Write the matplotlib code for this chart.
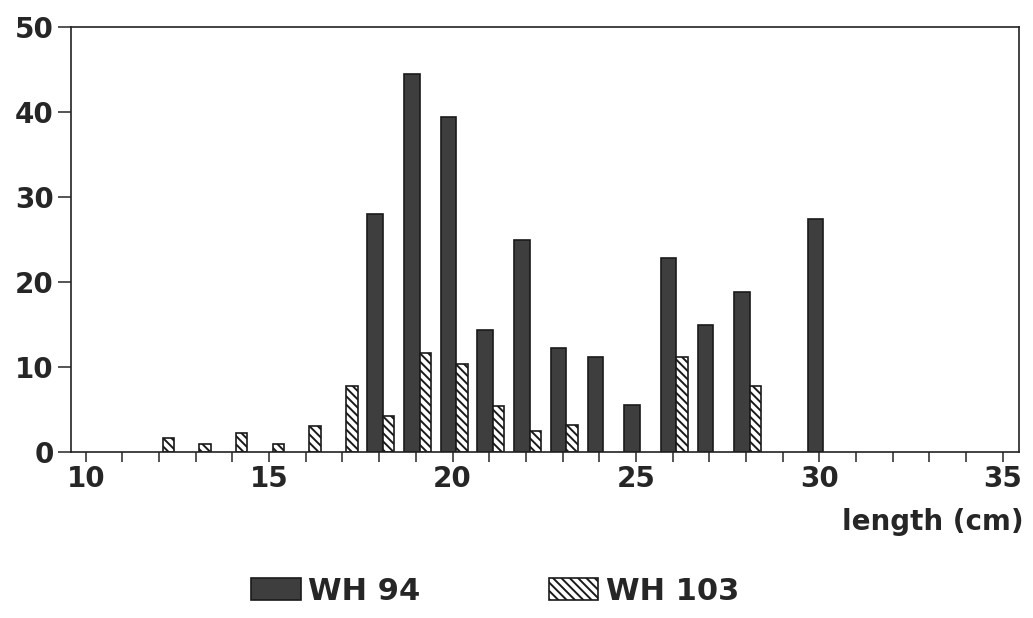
import numpy as np
import matplotlib
matplotlib.use('Agg')
import matplotlib.pyplot as plt
from matplotlib.ticker import MultipleLocator

plt.rcParams['font.family'] = 'DejaVu Sans'
plt.rcParams['font.weight'] = 'bold'
plt.rcParams['hatch.linewidth'] = 1.4
plt.rcParams['text.color'] = '#262626'
plt.rcParams['axes.labelcolor'] = '#262626'

# length classes (cm) and counts
wh94_len = [18, 19, 20, 21, 22, 23, 24, 25, 26, 27, 28, 30]
wh94_n = [28.0, 44.5, 39.4, 14.4, 25.0, 12.2, 11.2, 5.5, 22.8, 15.0, 18.8, 27.4]

wh103_len = [12, 13, 14, 15, 16, 17, 18, 19, 20, 21, 22, 23, 26, 28]
wh103_n = [1.7, 1.0, 2.2, 1.0, 3.1, 7.8, 4.2, 11.6, 10.4, 5.4, 2.5, 3.2, 11.2, 7.8]

x_ticks = [10, 15, 20, 25, 30, 35]
y_ticks = [0, 10, 20, 30, 40, 50]

fig = plt.figure(figsize=(10.33, 6.18), dpi=100)
ax = fig.add_axes([0.0684, 0.2686, 0.9180, 0.6877])

ax.bar(np.array(wh94_len) - 0.32, wh94_n, width=0.42, align='edge',
       color='#3e3e3e', edgecolor='#1a1a1a', linewidth=1.2, label='WH 94')
ax.bar(np.array(wh103_len) + 0.1, wh103_n, width=0.31, align='edge',
       color='white', edgecolor='#1a1a1a', linewidth=1.2, hatch='\\\\\\\\',
       label='WH 103')

ax.set_xlim(9.59, 35.44)
ax.set_ylim(0, 50)
ax.set_xticks(x_ticks)
ax.xaxis.set_minor_locator(MultipleLocator(1))
ax.set_yticks(y_ticks)

ax.tick_params(axis='x', which='both', direction='out', length=7.5, width=1.1,
               pad=2, labelsize=20, colors='#262626')
ax.tick_params(axis='y', direction='out', length=9.5, width=1.1, pad=2.5,
               labelsize=20, colors='#262626')
for s in ax.spines.values():
    s.set_linewidth(1.2)
    s.set_color('#222222')

ax.set_xlabel('length (cm)', fontsize=20, fontweight='bold', ha='right')
ax.xaxis.set_label_coords(1.005, -0.132)

fig.legend(loc='center', bbox_to_anchor=(495 / 1033, 1 - 591 / 618),
           ncol=2, frameon=False, fontsize=22, handlelength=1.63,
           handleheight=0.75, handletextpad=0.23, columnspacing=4.2,
           borderpad=0, borderaxespad=0)

plt.savefig('out.png', dpi=100)
